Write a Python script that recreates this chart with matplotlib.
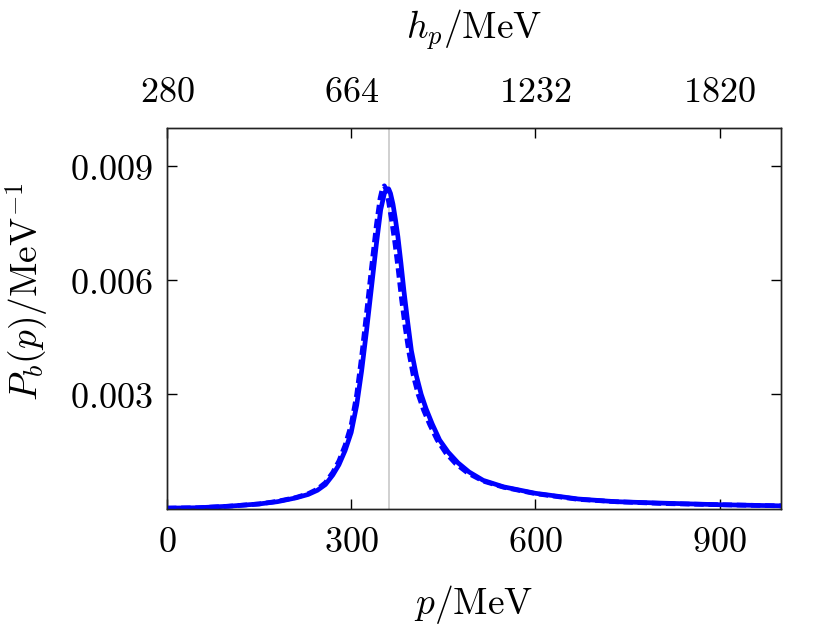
import matplotlib
matplotlib.use("Agg")
import matplotlib.pyplot as plt

plt.rcParams['mathtext.fontset'] = 'cm'
plt.rcParams['font.family'] = ['DejaVu Serif']

# momentum grid (MeV) and distributions (1/MeV)
p_solid = [0, 50, 100, 150, 180, 210, 230, 245, 258, 270, 280, 290, 300, 309,
           317, 325, 333, 341, 348, 354, 358, 361, 364, 368, 372, 376, 381,
           386, 392, 398, 406, 414, 422, 432, 444, 458, 474, 492, 515, 548,
           600, 670, 730, 810, 900, 1000]
pb_solid = [0.00001, 0.00002, 0.00006, 0.00012, 0.00018, 0.00028, 0.00037,
            0.00048, 0.00063, 0.00088, 0.00115, 0.00152, 0.00200, 0.00272,
            0.00362, 0.00468, 0.00581, 0.00695, 0.00785, 0.00828, 0.00840,
            0.00840, 0.00828, 0.00800, 0.00760, 0.00715, 0.00645, 0.00570,
            0.00490, 0.00415, 0.00350, 0.00300, 0.00262, 0.00222, 0.00180,
            0.00148, 0.00120, 0.00096, 0.00074, 0.00057, 0.00040, 0.00025,
            0.00018, 0.00014, 0.00010, 0.00007]

p_dash = [0, 50, 100, 150, 180, 210, 230, 245, 258, 270, 280, 290, 300, 309,
          317, 325, 333, 341, 347, 351, 354, 357, 361, 366, 371, 376, 382,
          388, 394, 401, 409, 418, 428, 440, 454, 470, 490, 515, 548, 600,
          670, 730, 810, 900, 1000]
pb_dash = [0.00001, 0.00002, 0.00006, 0.00012, 0.00019, 0.00029, 0.00039,
           0.00051, 0.00068, 0.00095, 0.00125, 0.00166, 0.00220, 0.00300,
           0.00400, 0.00515, 0.00632, 0.00745, 0.00815, 0.00843, 0.00848,
           0.00838, 0.00805, 0.00755, 0.00700, 0.00635, 0.00550, 0.00475,
           0.00410, 0.00350, 0.00300, 0.00258, 0.00220, 0.00180, 0.00146,
           0.00118, 0.00093, 0.00072, 0.00056, 0.00039, 0.00024, 0.00018,
           0.00013, 0.00010, 0.00007]

p_ref = 362

x_ticks = [0, 300, 600, 900]
x_ticklabels = ['0', '300', '600', '900']
top_ticklabels = ['280', '664', '1232', '1820']
y_ticks = [0.003, 0.006, 0.009]
y_ticklabels = ['0.003', '0.006', '0.009']

fig = plt.figure(figsize=(8.3, 6.39), dpi=100)
ax = fig.add_axes([0.2012, 0.2042, 0.7398, 0.5955])

ax.axvline(p_ref, color='#c8c8c8', lw=1.2, zorder=1)
ax.plot(p_solid, pb_solid, color='#0000ff', lw=3.4, zorder=2,
        solid_joinstyle='round')
ax.plot(p_dash, pb_dash, color='#0000ff', lw=3.4, ls=(0, (2, 1)), zorder=3)

ax.set_xlim(0, 1000)
ax.set_ylim(0, 0.01)

fs = 26
ax.set_xticks(x_ticks)
ax.set_xticklabels(['$%s$' % s for s in x_ticklabels], fontsize=fs)
ax.set_yticks(y_ticks)
ax.set_yticklabels(['$%s$' % s for s in y_ticklabels], fontsize=fs)
ax.tick_params(direction='in', length=7, width=1, pad=10, right=True)
ax.tick_params(axis='x', pad=12)
ax.set_xlabel(r'$p/\mathrm{MeV}$', fontsize=27, labelpad=17)
ax.set_ylabel(r'$P_b(p)/\mathrm{MeV}^{-1}$', fontsize=27)
ax.yaxis.set_label_coords(-0.19, 0.57)

ax2 = ax.twiny()
ax2.set_xlim(0, 1000)
ax2.set_xticks(x_ticks)
ax2.set_xticklabels(['$%s$' % s for s in top_ticklabels], fontsize=fs)
ax2.tick_params(direction='in', length=7, width=1, pad=14)
ax2.set_xlabel(r'$h_p/\mathrm{MeV}$', fontsize=27, labelpad=26)

for a in (ax, ax2):
    for sp in a.spines.values():
        sp.set_linewidth(1.0)
        sp.set_color('#222222')

fig.savefig('out.png', dpi=100)
